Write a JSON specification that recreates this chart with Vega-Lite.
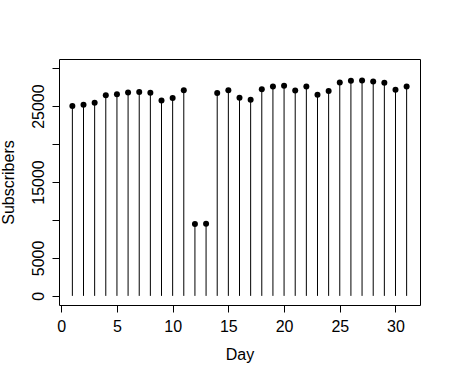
{
  "$schema": "https://vega.github.io/schema/vega-lite/v6.json",
  "width": 361,
  "height": 246,
  "autosize": {"type": "none"},
  "padding": {"left": 59, "top": 59, "right": 30, "bottom": 74},
  "background": "white",
  "config": {
    "view": {"stroke": "black", "strokeWidth": 1},
    "font": "Liberation Sans",
    "axis": {
      "domain": false,
      "grid": false,
      "tickColor": "black",
      "tickSize": 7,
      "labelFont": "Liberation Sans",
      "labelFontSize": 16,
      "labelColor": "black",
      "titleFont": "Liberation Sans",
      "titleFontSize": 16,
      "titleFontWeight": "normal",
      "titleColor": "black"
    }
  },
  "data": {
    "values": [
      {"Day": 1, "Subscribers": 25000},
      {"Day": 2, "Subscribers": 25170},
      {"Day": 3, "Subscribers": 25440},
      {"Day": 4, "Subscribers": 26440},
      {"Day": 5, "Subscribers": 26570},
      {"Day": 6, "Subscribers": 26790},
      {"Day": 7, "Subscribers": 26840},
      {"Day": 8, "Subscribers": 26750},
      {"Day": 9, "Subscribers": 25740},
      {"Day": 10, "Subscribers": 26050},
      {"Day": 11, "Subscribers": 27100},
      {"Day": 12, "Subscribers": 9460},
      {"Day": 13, "Subscribers": 9500},
      {"Day": 14, "Subscribers": 26710},
      {"Day": 15, "Subscribers": 27100},
      {"Day": 16, "Subscribers": 26090},
      {"Day": 17, "Subscribers": 25830},
      {"Day": 18, "Subscribers": 27230},
      {"Day": 19, "Subscribers": 27580},
      {"Day": 20, "Subscribers": 27670},
      {"Day": 21, "Subscribers": 27060},
      {"Day": 22, "Subscribers": 27580},
      {"Day": 23, "Subscribers": 26490},
      {"Day": 24, "Subscribers": 26970},
      {"Day": 25, "Subscribers": 28110},
      {"Day": 26, "Subscribers": 28330},
      {"Day": 27, "Subscribers": 28370},
      {"Day": 28, "Subscribers": 28240},
      {"Day": 29, "Subscribers": 28060},
      {"Day": 30, "Subscribers": 27140},
      {"Day": 31, "Subscribers": 27580}
    ]
  },
  "encoding": {
    "x": {
      "field": "Day",
      "type": "quantitative",
      "scale": {"domain": [-0.2, 32.2], "nice": false, "zero": false},
      "axis": {
        "values": [0, 5, 10, 15, 20, 25, 30],
        "labelPadding": 6,
        "labelFlush": false,
        "labelOverlap": false,
        "title": "Day",
        "titlePadding": 12
      }
    },
    "y": {
      "field": "Subscribers",
      "type": "quantitative",
      "scale": {"domain": [-1200, 31200], "nice": false, "zero": false},
      "axis": {
        "values": [0, 5000, 10000, 15000, 20000, 25000, 30000],
        "labelExpr": "(datum.value == 10000 || datum.value == 20000 || datum.value == 30000) ? '' : datum.label",
        "format": "d",
        "labelAngle": -90,
        "labelAlign": "center",
        "labelBaseline": "bottom",
        "labelPadding": 6,
        "labelFlush": false,
        "labelOverlap": false,
        "title": "Subscribers",
        "titlePadding": 14
      }
    }
  },
  "layer": [
    {
      "mark": {"type": "rule", "color": "black", "strokeWidth": 1},
      "encoding": {"y2": {"datum": 0}}
    },
    {
      "mark": {"type": "circle", "color": "black", "opacity": 1, "size": 36}
    }
  ]
}
